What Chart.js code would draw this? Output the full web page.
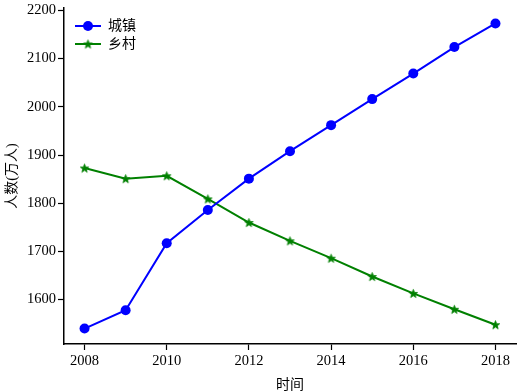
<!DOCTYPE html>
<html>
<head>
<meta charset="utf-8">
<script src="https://cdn.jsdelivr.net/npm/chart.js@4.4.1/dist/chart.umd.min.js"></script>
<style>
  html, body { margin: 0; padding: 0; background: #fff; }
  #wrap { width: 519px; height: 392px; }
</style>
</head>
<body>
<div id="wrap"><canvas id="chart" width="519" height="392"></canvas></div>
<script>
const years = [2008, 2009, 2010, 2011, 2012, 2013, 2014, 2015, 2016, 2017, 2018];
const urban = [1540, 1578, 1717, 1786, 1851, 1908, 1962, 2016, 2069, 2124, 2173];
const rural = [1873, 1851, 1857, 1809, 1760, 1722, 1686, 1648, 1613, 1580, 1548];
const xTicks = [2008, 2010, 2012, 2014, 2016, 2018];
const yTicks = [1600, 1700, 1800, 1900, 2000, 2100, 2200];
const seriesNames = ['城镇', '乡村'];

const serif = "'Liberation Serif', 'Times New Roman', 'Noto Sans CJK SC', serif";

// filled five point star, like matplotlib's '*' marker
var makeStar = function (r, color) {
    const c = document.createElement('canvas');
    const s = Math.ceil(r * 2 + 2);
    c.width = s; c.height = s;
    const g = c.getContext('2d');
    g.translate(s / 2, s / 2 + r * 0.1);
    g.beginPath();
    for (let i = 0; i < 10; i++) {
        const rr = i % 2 == 0 ? r : r * 0.42;
        const a = -Math.PI / 2 + i * Math.PI / 5;
        g.lineTo(rr * Math.cos(a), rr * Math.sin(a));
    }
    g.closePath();
    g.fillStyle = color;
    g.fill();
    g.lineWidth = 0.8;
    g.strokeStyle = color;
    g.stroke();
    return c;
}
const starImg = makeStar(4.5, '#008000');

// legend drawn inside the axes, top left, matplotlib style
const innerLegend = {
    id: 'innerLegend',
    afterDraw(chart) {
        const ctx = chart.ctx;
        const area = chart.chartArea;
        ctx.save();
        chart.data.datasets.forEach((ds, i) => {
            const y = area.top + 18 + i * 18;
            const x0 = area.left + 11;
            ctx.strokeStyle = ds.borderColor;
            ctx.lineWidth = 2;
            ctx.beginPath();
            ctx.moveTo(x0, y);
            ctx.lineTo(x0 + 26, y);
            ctx.stroke();
            if (ds.pointStyle == 'circle') {
                ctx.fillStyle = ds.borderColor;
                ctx.beginPath();
                ctx.arc(x0 + 13, y, 5, 0, Math.PI * 2);
                ctx.fill();
            } else {
                ctx.drawImage(starImg, x0 + 13 - starImg.width / 2, y - starImg.height / 2);
            }
            ctx.fillStyle = '#000';
            ctx.font = "14px " + serif;
            ctx.textBaseline = 'middle';
            ctx.fillText(ds.label, x0 + 33, y);
        });
        ctx.restore();
    }
};

const axisColor = '#000';
new Chart(document.getElementById('chart').getContext('2d'), {
    type: 'line',
    data: {
        datasets: [{
            label: seriesNames[0],
            data: years.map((x, i) => ({ x: x, y: urban[i] })),
            borderColor: '#0000ff',
            backgroundColor: '#0000ff',
            borderWidth: 2,
            pointStyle: 'circle',
            pointRadius: 5,
            pointBorderWidth: 0,
            tension: 0
        }, {
            label: seriesNames[1],
            data: years.map((x, i) => ({ x: x, y: rural[i] })),
            borderColor: '#008000',
            backgroundColor: '#008000',
            borderWidth: 2,
            pointStyle: starImg,
            pointRadius: 5,
            tension: 0
        }]
    },
    plugins: [innerLegend],
    options: {
        responsive: false,
        animation: false,
        layout: { autoPadding: false, padding: { top: 8, right: 3, left: 0, bottom: 0 } },
        plugins: {
            legend: { display: false },
            tooltip: { enabled: false }
        },
        scales: {
            x: {
                type: 'linear',
                min: 2007.5,
                max: 2018.5,
                afterBuildTicks: axis => { axis.ticks = xTicks.map(v => ({ value: v })) },
                afterFit: axis => {
                    axis.height = 48;
                    axis.paddingLeft = 0;
                    axis.paddingRight = 0;
                },
                grid: { drawOnChartArea: false, tickLength: 6, tickColor: axisColor, tickWidth: 1.2 },
                border: { display: true, color: axisColor, width: 1.5 },
                ticks: {
                    color: '#000',
                    padding: 4,
                    maxRotation: 0,
                    font: { family: serif, size: 14.5, lineHeight: 1 },
                    callback: v => String(v)
                },
                title: {
                    display: true,
                    text: '时间',
                    color: '#000',
                    padding: 0,
                    font: { family: serif, size: 14, lineHeight: 1 }
                }
            },
            y: {
                min: 1508,
                max: 2205,
                afterBuildTicks: axis => { axis.ticks = yTicks.map(v => ({ value: v })) },
                afterFit: axis => {
                    axis.width = 64;
                    axis.paddingTop = 0;
                    axis.paddingBottom = 0;
                },
                grid: { drawOnChartArea: false, tickLength: 6, tickColor: axisColor, tickWidth: 1.2 },
                border: { display: true, color: axisColor, width: 1.5 },
                ticks: {
                    color: '#000',
                    padding: 2,
                    font: { family: serif, size: 14.5, lineHeight: 1 },
                    callback: v => String(v)
                },
                title: {
                    display: true,
                    text: '人数(万人)',
                    color: '#000',
                    padding: { top: 4, bottom: 0 },
                    font: { family: serif, size: 14 }
                }
            }
        }
    }
});
</script>
</body>
</html>
